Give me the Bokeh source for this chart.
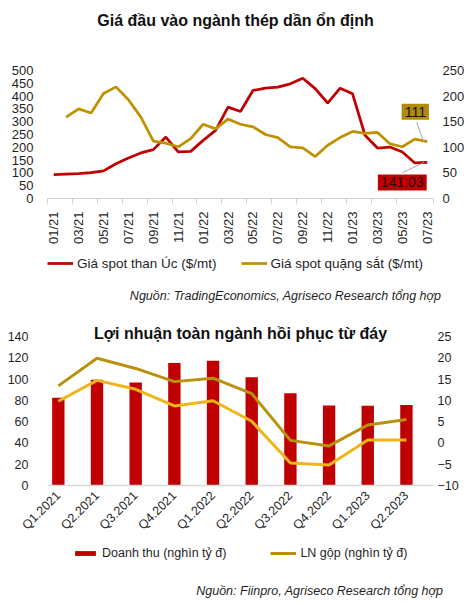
import math
import numpy as np
from bokeh.plotting import figure
from bokeh.layouts import column
from bokeh.models import (Range1d, LinearAxis, FixedTicker, Legend, LegendItem,
                          Label, ColumnDataSource)
from bokeh.embed import file_html
from bokeh.resources import INLINE

# ---------------- data: chart 1 ----------------
months = ["01/21", "02/21", "03/21", "04/21", "05/21", "06/21", "07/21", "08/21", "09/21", "10/21",
          "11/21", "12/21", "01/22", "02/22", "03/22", "04/22", "05/22", "06/22", "07/22", "08/22",
          "09/22", "10/22", "11/22", "12/22", "01/23", "02/23", "03/23", "04/23", "05/23", "06/23", "07/23"]
coal_price = [93, 95, 97, 101, 108, 136, 158, 178, 191, 240, 182, 184, 227, 266, 357, 340, 422, 431,
              435, 448, 470, 429, 373, 431, 409, 247, 197, 201, 182, 139, 141.03]
iron_ore_price = [None, 159, 175, 167, 205, 218, 193, 159, 112, 108, 101, 117, 145, 136, 155, 145, 140,
                  125, 119, 101, 99, 82, 104, 119, 131, 127, 129, 107, 101, 116, 111]
left_ticks_1 = [0, 50, 100, 150, 200, 250, 300, 350, 400, 450, 500]
right_ticks_1 = [0, 50, 100, 150, 200, 250]

# ---------------- data: chart 2 ----------------
quarters = ["Q1.2021", "Q2.2021", "Q3.2021", "Q4.2021", "Q1.2022", "Q2.2022",
            "Q3.2022", "Q4.2022", "Q1.2023", "Q2.2023"]
revenue = [82.5, 99.4, 96.8, 115.2, 117.1, 101.6, 86.7, 75.2, 74.9, 75.6]
gross_profit = [13.4, 19.9, 17.5, 14.4, 15.2, 11.6, 0.6, -0.7, 4.2, 5.5]
net_profit = [9.8, 14.7, 12.6, 8.7, 9.9, 5.1, -4.7, -5.2, 0.7, 0.7]
left_ticks_2 = [0, 20, 40, 60, 80, 100, 120, 140]
right_ticks_2 = [-10, -5, 0, 5, 10, 15, 20, 25]

title_1 = "Giá đầu vào ngành thép dần ổn định"
title_2 = "Lợi nhuận toàn ngành hồi phục từ đáy"
source_1 = "Nguồn: TradingEconomics, Agriseco Research tổng hợp"
source_2 = "Nguồn: Fiinpro, Agriseco Research tổng hợp"
legend_1 = ["Giá spot than Úc ($/mt)", "Giá spot quặng sắt ($/mt)"]
legend_2 = ["Doanh thu (nghìn tỷ đ)", "LN gộp (nghìn tỷ đ)"]

FONT = "Liberation Sans"
TXT = "#1f1f1f"
RED = "#C00000"
GOLD = "#BF9000"
GOLD2 = "#B8920F"
YELLOW = "#F0B519"
W = 468
BL, FW, BR = 47, 386, 35     # shared left border / frame width / right border


def style_yaxis(ax, size, standoff):
    ax.axis_line_color = None
    ax.major_tick_line_color = None
    ax.minor_tick_line_color = None
    ax.major_tick_out = 0
    ax.major_tick_in = 0
    ax.major_label_standoff = standoff
    ax.major_label_text_font = FONT
    ax.major_label_text_font_size = size
    ax.major_label_text_color = TXT


def text_fig(h):
    f = figure(width=W, height=h, frame_width=W - BL, frame_height=h,
               min_border_left=BL, min_border_right=0, min_border_top=0, min_border_bottom=0,
               x_axis_type=None, y_axis_type=None, x_range=Range1d(0, 1),
               y_range=Range1d(1000, 1001), output_backend="svg", toolbar_location=None)
    f.outline_line_color = None
    f.grid.visible = False
    return f


def text_label(x, y, text, align="center", style="normal", size="12.5px"):
    # x given in page pixels; labels use frame-relative screen units
    return Label(x=x - BL, y=y, x_units="screen", y_units="screen", text=text, text_align=align,
                 text_baseline="middle", text_font=FONT, text_font_style=style,
                 text_font_size=size, text_color=TXT if style != "bold" else "#111111")


# ================= title 1 =================
t1 = text_fig(60)
t1.add_layout(text_label(235, 40, title_1, style="bold", size="16px"))

# ================= chart 1 =================
n = len(months)
xs = list(range(n))
p1 = figure(width=W, height=194, frame_width=FW, frame_height=128,
            min_border_left=BL, min_border_right=BR, min_border_top=10, min_border_bottom=56,
            x_range=Range1d(-0.5, n - 0.5), y_range=Range1d(left_ticks_1[0], left_ticks_1[-1]),
            output_backend="svg", toolbar_location=None)
p1.extra_y_ranges = {"right": Range1d(right_ticks_1[0], right_ticks_1[-1])}
p1.outline_line_color = None
p1.xgrid.grid_line_color = None
p1.ygrid.grid_line_color = None

iron_arr = np.array([np.nan if v is None else v for v in iron_ore_price], dtype=float)
p1.line(xs, coal_price, line_color=RED, line_width=2.75)
p1.line(xs, iron_arr, line_color=GOLD, line_width=2.75, y_range_name="right")

ax_r1 = LinearAxis(y_range_name="right", ticker=FixedTicker(ticks=right_ticks_1))
p1.add_layout(ax_r1, "right")
p1.yaxis[0].ticker = FixedTicker(ticks=left_ticks_1)
style_yaxis(p1.yaxis[0], "13px", 14)
style_yaxis(ax_r1, "13px", 9)

label_idx = list(range(0, n, 2))
bx = p1.xaxis[0]
bx.ticker = FixedTicker(ticks=label_idx, minor_ticks=[i - 0.5 for i in label_idx[:-1]] + [n - 0.5])
bx.major_label_overrides = {i: months[i] for i in label_idx}
bx.major_tick_line_color = None
bx.major_tick_out = 0
bx.major_tick_in = 0
bx.minor_tick_line_color = "#D0D0D0"
bx.minor_tick_out = 5
bx.minor_tick_in = 0
bx.axis_line_color = "#D0D0D0"
bx.major_label_orientation = math.pi / 2
bx.major_label_standoff = 8
bx.major_label_text_font = FONT
bx.major_label_text_font_size = "13px"
bx.major_label_text_color = TXT

# value callouts for the last points
last = n - 1
p1.segment(x0=[last - 0.3], y0=[iron_ore_price[-1]], x1=[last - 0.85], y1=[iron_ore_price[-1] + 38],
           line_color="#A6A6A6", line_width=1, y_range_name="right")
p1.segment(x0=[last - 0.25], y0=[coal_price[-1]], x1=[last - 2.0], y1=[coal_price[-1] - 40],
           line_color="#A6A6A6", line_width=1)
p1.add_layout(Label(x=last, y=iron_ore_price[-1], y_range_name="right", x_offset=-12, y_offset=30,
                    text=f"{iron_ore_price[-1]:.0f}", text_align="center", text_baseline="middle",
                    text_font=FONT, text_font_size="14px", text_color="#111111",
                    background_fill_color="#B08A0A", padding=3))
p1.add_layout(Label(x=last, y=coal_price[-1], x_offset=-25, y_offset=-20,
                    text=f"{coal_price[-1]:.2f}".replace(".", ","), text_align="center",
                    text_baseline="middle", text_font=FONT, text_font_size="14px",
                    text_color="#2a0000", background_fill_color=RED, padding=3))

# ================= legend + source 1 =================
l1 = text_fig(51)
s_coal = l1.line(xs, coal_price, line_color=RED, line_width=2.75)
s_iron = l1.line(xs, iron_arr, line_color=GOLD, line_width=2.75)
l1.add_layout(Legend(items=[LegendItem(label=legend_1[0], renderers=[s_coal]),
                            LegendItem(label=legend_1[1], renderers=[s_iron])],
                     orientation="horizontal", location=(47 - BL, 34), glyph_width=26, glyph_height=16,
                     label_height=16, label_standoff=4, spacing=24, padding=0, margin=0,
                     border_line_color=None, background_fill_alpha=0,
                     label_text_font=FONT, label_text_font_size="13.5px", label_text_color=TXT))
l1.add_layout(text_label(441, 10, source_1, align="right", style="italic"))

# ================= chart 2 =================
FRAME2 = 163
HEAD2 = 14  # extra pixels above the top tick, room for the title
left_end_2 = left_ticks_2[-1] + (left_ticks_2[-1] - left_ticks_2[0]) * HEAD2 / (FRAME2 - HEAD2)
right_end_2 = right_ticks_2[-1] + (right_ticks_2[-1] - right_ticks_2[0]) * HEAD2 / (FRAME2 - HEAD2)
qx = list(range(len(quarters)))

p2 = figure(width=W, height=240, frame_width=FW, frame_height=FRAME2,
            min_border_left=BL, min_border_right=BR, min_border_top=17, min_border_bottom=60,
            x_range=Range1d(-0.28, len(quarters) - 0.30), y_range=Range1d(left_ticks_2[0], left_end_2),
            output_backend="svg", toolbar_location=None)
p2.extra_y_ranges = {"right": Range1d(right_ticks_2[0], right_end_2)}
p2.outline_line_color = None
p2.xgrid.grid_line_color = None
p2.ygrid.grid_line_color = None

src2 = ColumnDataSource(dict(q=qx, rev=revenue, gp=gross_profit, np_=net_profit))
p2.vbar(x="q", top="rev", width=0.32, source=src2, fill_color=RED, line_color=None)
p2.line(x="q", y="gp", source=src2, line_color=GOLD2, line_width=3, y_range_name="right")
p2.line(x="q", y="np_", source=src2, line_color=YELLOW, line_width=3, y_range_name="right")

ax_r2 = LinearAxis(y_range_name="right", ticker=FixedTicker(ticks=right_ticks_2))
p2.add_layout(ax_r2, "right")
p2.yaxis[0].ticker = FixedTicker(ticks=left_ticks_2)
style_yaxis(p2.yaxis[0], "12.5px", 19)
style_yaxis(ax_r2, "12.5px", 4)

bx2 = p2.xaxis[0]
bx2.ticker = FixedTicker(ticks=qx)
bx2.major_label_overrides = {i: q for i, q in enumerate(quarters)}
bx2.axis_line_color = "#D9D9D9"
bx2.axis_line_width = 1.5
bx2.major_tick_line_color = None
bx2.minor_tick_line_color = None
bx2.major_tick_out = 0
bx2.major_tick_in = 0
bx2.major_label_orientation = math.pi / 4
bx2.major_label_standoff = 8
bx2.major_label_text_font = FONT
bx2.major_label_text_font_size = "12.5px"
bx2.major_label_text_color = TXT

p2.add_layout(text_label(240, 152, title_2, style="bold", size="16px"))

# ================= legend + source 2 =================
l2 = text_fig(55)
s_rev = l2.vbar(x=qx, top=revenue, width=0.3, fill_color=RED, line_color=None)
s_gp = l2.line(qx, gross_profit, line_color=GOLD2, line_width=3)
l2.add_layout(Legend(items=[LegendItem(label=legend_2[0], renderers=[s_rev]),
                            LegendItem(label=legend_2[1], renderers=[s_gp])],
                     orientation="horizontal", location=(72 - BL, 39), glyph_width=26, glyph_height=6,
                     label_height=16, label_standoff=4, spacing=44, padding=0, margin=0,
                     border_line_color=None, background_fill_alpha=0,
                     label_text_font=FONT, label_text_font_size="12.5px", label_text_color=TXT))
l2.add_layout(text_label(443, 10, source_2, align="right", style="italic"))

layout = column(t1, p1, l1, p2, l2, spacing=0)
open("out.html", "w").write(file_html(layout, INLINE))
